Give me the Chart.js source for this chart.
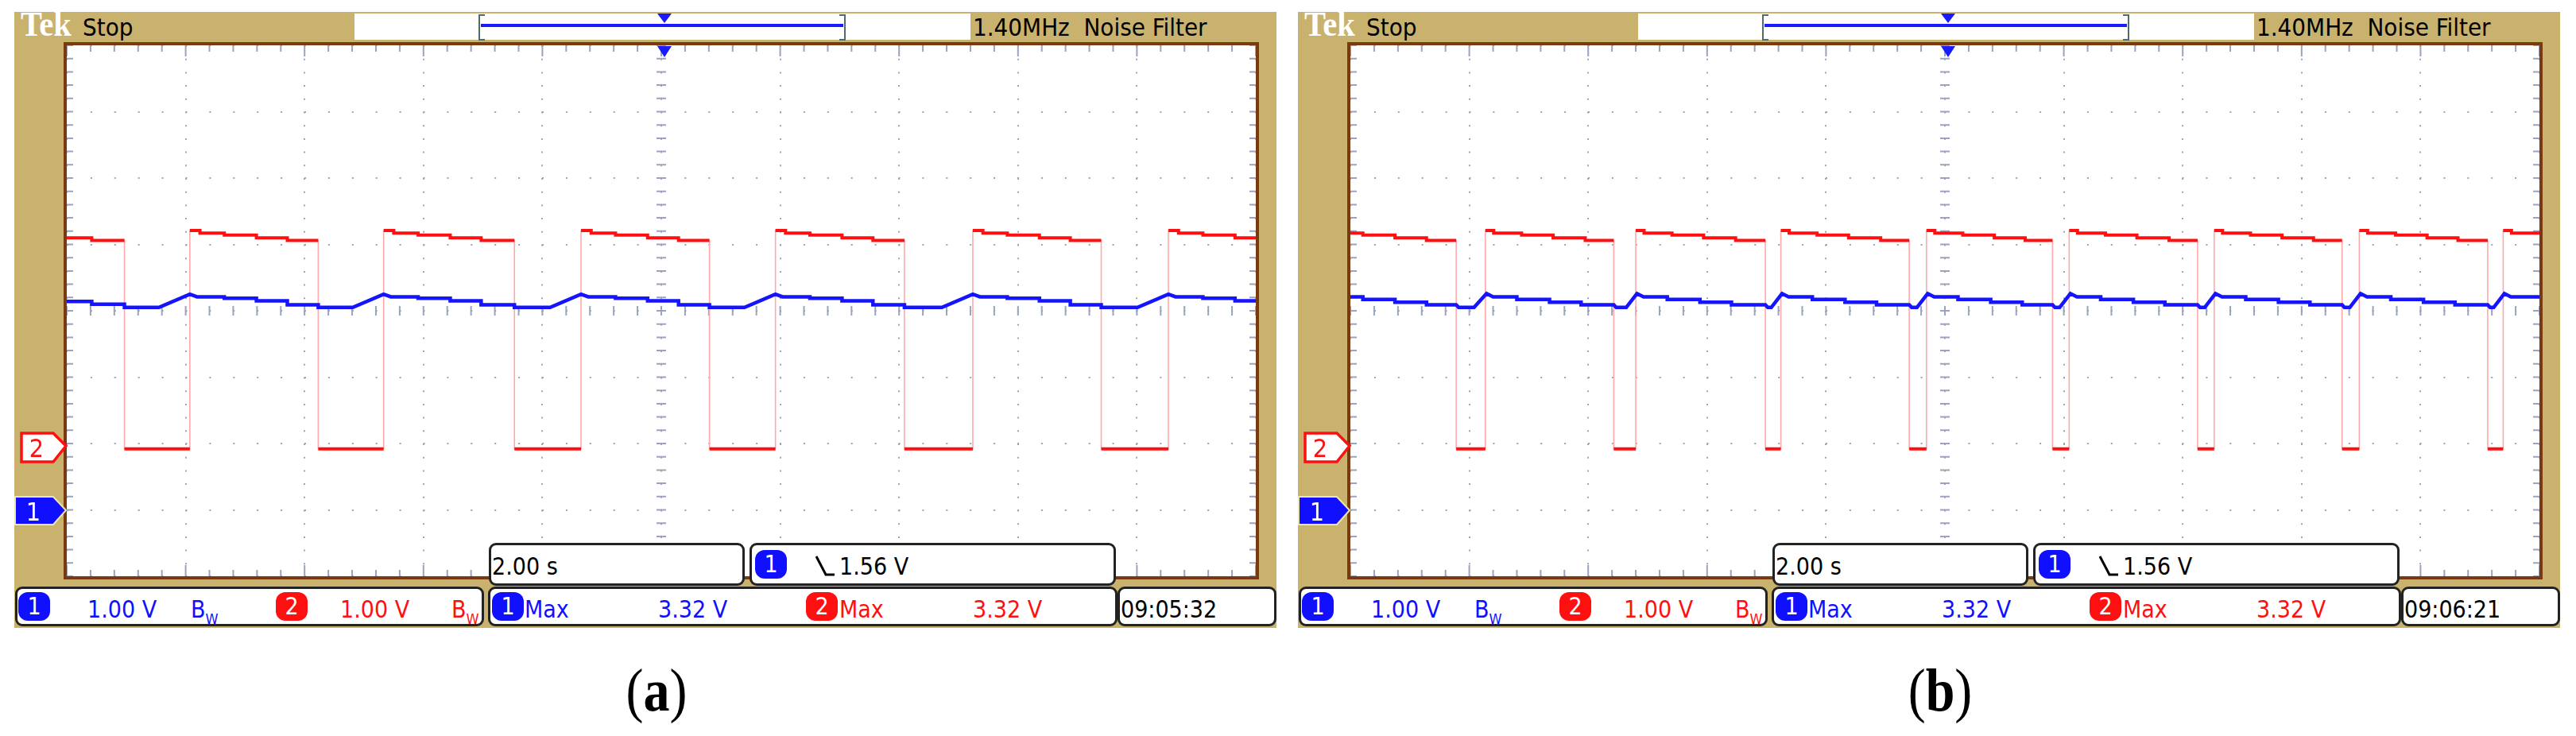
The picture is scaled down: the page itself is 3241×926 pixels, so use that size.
<!DOCTYPE html>
<html>
<head>
<meta charset="utf-8">
<title>Scope captures (a) and (b)</title>
<script src="https://cdn.jsdelivr.net/npm/chart.js@4.4.1/dist/chart.umd.min.js"></script>
<style>
    body { margin: 0; width: 3241px; height: 926px; background: #fff; position: relative; overflow: hidden; }
    .panel { position: absolute; top: 0; width: 1615px; height: 926px; }
    .abs { position: absolute; }
    .frame { left: 18px; top: 15px; width: 1588px; height: 775px; background: #c9b26e; }
    .txt { position: absolute; white-space: nowrap; line-height: 1; font-size: 30px; color: #000;
           font-family: "Liberation Sans Narrow", "DejaVu Sans Condensed", "Arial Narrow", sans-serif; }
    .blue { color: #1010ff; }
    .red { color: #ff1010; }
    .tek { font-family: "Liberation Serif", "DejaVu Serif", serif; font-size: 44px; font-weight: bold; color: #fff;
           transform: scaleX(0.92); transform-origin: left top; }
    .screen { left: 80px; top: 53px; width: 1496px; height: 668px; border: 4px solid #7a3a10; background: #fff; }
    .box { position: absolute; background: #fff; border: 3px solid #222; border-radius: 9px; box-sizing: border-box; }
    .badge { position: absolute; width: 40px; height: 36px; border-radius: 12px; color: #fff; text-align: center;
             font-family: "Liberation Sans Narrow", "DejaVu Sans Condensed", sans-serif; font-size: 30px; line-height: 36px; }
    .badge.b1 { background: #1010ff; }
    .badge.b2 { background: #ff1010; }
    .caption { position: absolute; left: 726px; top: 831px; width: 200px; text-align: center; line-height: 1;
               font-family: "Liberation Serif", "Times New Roman", serif; font-size: 66px; color: #000;
               transform: scaleY(1.15); transform-origin: top center; }
    sub { font-size: 18px; vertical-align: -8px; }
</style>
</head>
<body>
<script>
// horizontal 10 div x 2.00 s, vertical 8 div x 1.00 V
const X_MIN = 0, X_MAX = 20;
const CH1_RANGE = [-1, 7];   // ch1 ground marker 3 div below centre
const CH2_RANGE = [-2, 6];   // ch2 ground marker 2 div below centre
const GRID_COLOR = '#9aa4bc';

// ch2 (red): [time s, volts], each level holds until the next time
const ch2A = [
    [0, 3.10], [0.42, 3.06], [0.97, -0.08],
    [2.07, 3.21], [2.24, 3.17], [2.65, 3.14], [3.19, 3.10], [3.71, 3.06], [4.23, -0.08],
    [5.33, 3.21], [5.50, 3.17], [5.91, 3.14], [6.45, 3.10], [6.97, 3.06], [7.53, -0.08],
    [8.65, 3.21], [8.82, 3.17], [9.23, 3.14], [9.77, 3.10], [10.29, 3.06], [10.81, -0.08],
    [11.92, 3.21], [12.09, 3.17], [12.50, 3.14], [13.04, 3.10], [13.56, 3.06], [14.09, -0.08],
    [15.24, 3.21], [15.41, 3.17], [15.82, 3.14], [16.36, 3.10], [16.88, 3.06], [17.40, -0.08],
    [18.53, 3.21], [18.70, 3.17], [19.11, 3.14], [19.65, 3.10]
];

// ch1 (blue): [time s, volts], straight lines between points
const ch1A = [
    [0, 3.14], [0.42, 3.14], [0.42, 3.10], [0.97, 3.10], [0.97, 3.05], [1.55, 3.05], [2.07, 3.25],
    [2.19, 3.21], [2.65, 3.21], [2.65, 3.19], [3.19, 3.19], [3.19, 3.15], [3.71, 3.15], [3.71, 3.09], [4.23, 3.09], [4.23, 3.05], [4.81, 3.05], [5.33, 3.25],
    [5.45, 3.21], [5.91, 3.21], [5.91, 3.19], [6.45, 3.19], [6.45, 3.15], [6.97, 3.15], [6.97, 3.09], [7.53, 3.09], [7.53, 3.05], [8.13, 3.05], [8.65, 3.25],
    [8.77, 3.21], [9.23, 3.21], [9.23, 3.19], [9.77, 3.19], [9.77, 3.15], [10.29, 3.15], [10.29, 3.09], [10.81, 3.09], [10.81, 3.05], [11.40, 3.05], [11.92, 3.25],
    [12.04, 3.21], [12.50, 3.21], [12.50, 3.19], [13.04, 3.19], [13.04, 3.15], [13.56, 3.15], [13.56, 3.09], [14.09, 3.09], [14.09, 3.05], [14.72, 3.05], [15.24, 3.25],
    [15.36, 3.21], [15.82, 3.21], [15.82, 3.19], [16.36, 3.19], [16.36, 3.15], [16.88, 3.15], [16.88, 3.09], [17.40, 3.09], [17.40, 3.05], [18.01, 3.05], [18.53, 3.25],
    [18.65, 3.21], [19.11, 3.21], [19.11, 3.19], [19.65, 3.19], [19.65, 3.15], [20, 3.15]
];

const ch2B = [
    [0, 3.17], [0.21, 3.14], [0.75, 3.10], [1.28, 3.06], [1.78, -0.08],
    [2.27, 3.21], [2.41, 3.17], [2.88, 3.14], [3.41, 3.10], [3.95, 3.06], [4.43, -0.08],
    [4.80, 3.21], [4.94, 3.17], [5.41, 3.14], [5.94, 3.10], [6.48, 3.06], [6.98, -0.08],
    [7.24, 3.21], [7.38, 3.17], [7.85, 3.14], [8.38, 3.10], [8.92, 3.06], [9.40, -0.08],
    [9.69, 3.21], [9.83, 3.17], [10.30, 3.14], [10.83, 3.10], [11.35, 3.06], [11.81, -0.08],
    [12.09, 3.21], [12.23, 3.17], [12.70, 3.14], [13.23, 3.10], [13.77, 3.06], [14.25, -0.08],
    [14.53, 3.21], [14.67, 3.17], [15.14, 3.14], [15.67, 3.10], [16.20, 3.06], [16.68, -0.08],
    [16.97, 3.21], [17.11, 3.17], [17.58, 3.14], [18.11, 3.10], [18.63, 3.06], [19.13, -0.08],
    [19.39, 3.21], [19.53, 3.17]
];

const ch1B = [
    [0, 3.21], [0.21, 3.21], [0.21, 3.17], [0.75, 3.17], [0.75, 3.13], [1.28, 3.13], [1.28, 3.09], [1.78, 3.09], [1.82, 3.05], [2.08, 3.05], [2.29, 3.26],
    [2.40, 3.21], [2.80, 3.21], [2.80, 3.17], [3.35, 3.17], [3.35, 3.13], [3.88, 3.13], [3.88, 3.09], [4.43, 3.09], [4.47, 3.05], [4.64, 3.05], [4.82, 3.26],
    [4.93, 3.21], [5.33, 3.21], [5.33, 3.17], [5.88, 3.17], [5.88, 3.13], [6.41, 3.13], [6.41, 3.09], [6.98, 3.09], [7.02, 3.05], [7.08, 3.05], [7.26, 3.26],
    [7.37, 3.21], [7.77, 3.21], [7.77, 3.17], [8.32, 3.17], [8.32, 3.13], [8.85, 3.13], [8.85, 3.09], [9.40, 3.09], [9.44, 3.05], [9.53, 3.05], [9.71, 3.26],
    [9.82, 3.21], [10.22, 3.21], [10.22, 3.17], [10.77, 3.17], [10.77, 3.13], [11.30, 3.13], [11.30, 3.09], [11.81, 3.09], [11.85, 3.05], [11.93, 3.05], [12.11, 3.26],
    [12.22, 3.21], [12.62, 3.21], [12.62, 3.17], [13.17, 3.17], [13.17, 3.13], [13.70, 3.13], [13.70, 3.09], [14.25, 3.09], [14.29, 3.05], [14.37, 3.05], [14.55, 3.26],
    [14.66, 3.21], [15.06, 3.21], [15.06, 3.17], [15.61, 3.17], [15.61, 3.13], [16.14, 3.13], [16.14, 3.09], [16.68, 3.09], [16.72, 3.05], [16.81, 3.05], [16.99, 3.26],
    [17.10, 3.21], [17.50, 3.21], [17.50, 3.17], [18.05, 3.17], [18.05, 3.13], [18.58, 3.13], [18.58, 3.09], [19.13, 3.09], [19.17, 3.05], [19.23, 3.05], [19.41, 3.26],
    [19.52, 3.21], [20, 3.21]
];

const panels = [
    { id: 'a', left: 0, clock: '09:05:32', ch1: ch1A, ch2: ch2A },
    { id: 'b', left: 1615, clock: '09:06:21', ch1: ch1B, ch2: ch2B }
];

const slopeIcon = '<svg class="abs" style="left:1024px;top:698px" width="28" height="28">' +
    '<path d="M3,2 L15,25 L26,25" fill="none" stroke="#000" stroke-width="3"/></svg>';

function panelHtml(p) {
    return `
    <div class="abs frame"></div>
    <div class="txt tek" style="left:26px;top:9px">Tek</div>
    <div class="txt" style="left:104px;top:19px;font-size:31px">Stop</div>
    <div class="abs" style="left:446px;top:17px;width:775px;height:33px;background:#fff"></div>
    <div class="abs" style="left:602px;top:18px;width:6px;height:29px;border:2px solid #4f6c6c;border-right:none"></div>
    <div class="abs" style="left:1056px;top:18px;width:6px;height:29px;border:2px solid #4f6c6c;border-left:none"></div>
    <div class="abs" style="left:605px;top:30px;width:456px;height:4px;background:#1a1aff"></div>
    <svg class="abs" style="left:826px;top:17px" width="20" height="13"><path d="M1,0 L19,0 L10,12 Z" fill="#1a1aff"/></svg>
    <div class="txt" style="left:1224px;top:19px;font-size:31px">1.40MHz&nbsp; Noise Filter</div>
    <div class="abs screen"><canvas id="scope-${p.id}" width="1496" height="668"></canvas></div>
    <svg class="abs" style="left:826px;top:58px" width="20" height="15"><path d="M1,0 L19,0 L10,14 Z" fill="#1a1aff"/></svg>
    <svg class="abs" style="left:0;top:530px" width="90" height="140">
        <polygon points="27,15 67,15 83,31 67,51 27,51" fill="#fff" stroke="#ff1010" stroke-width="3.5"/>
        <text x="46" y="45" font-family="Liberation Sans Narrow, DejaVu Sans Condensed, sans-serif" font-size="32" fill="#ff1010" text-anchor="middle">2</text>
        <polygon points="19,95 67,95 83,112 67,130 19,130" fill="#1010ff" stroke="#efe6a6" stroke-width="2"/>
        <text x="42" y="125" font-family="Liberation Sans Narrow, DejaVu Sans Condensed, sans-serif" font-size="32" fill="#fff" text-anchor="middle">1</text>
    </svg>
    <div class="box" style="left:615px;top:683px;width:322px;height:54px"></div>
    <div class="txt" style="left:619px;top:698px">2.00 s</div>
    <div class="box" style="left:943px;top:683px;width:461px;height:54px"></div>
    <div class="badge b1" style="left:950px;top:692px">1</div>
    ${slopeIcon}
    <div class="txt" style="left:1056px;top:698px">1.56 V</div>
    <div class="box" style="left:19px;top:738px;width:590px;height:50px"></div>
    <div class="badge b1" style="left:23px;top:745px">1</div>
    <div class="txt blue" style="left:110px;top:752px">1.00 V</div>
    <div class="txt blue" style="left:240px;top:752px">B<sub>W</sub></div>
    <div class="badge b2" style="left:347px;top:745px">2</div>
    <div class="txt red" style="left:428px;top:752px">1.00 V</div>
    <div class="txt red" style="left:568px;top:752px">B<sub>W</sub></div>
    <div class="box" style="left:614px;top:738px;width:792px;height:50px"></div>
    <div class="badge b1" style="left:619px;top:745px">1</div>
    <div class="txt blue" style="left:660px;top:752px">Max</div>
    <div class="txt blue" style="left:828px;top:752px">3.32 V</div>
    <div class="badge b2" style="left:1014px;top:745px">2</div>
    <div class="txt red" style="left:1056px;top:752px">Max</div>
    <div class="txt red" style="left:1224px;top:752px">3.32 V</div>
    <div class="box" style="left:1406px;top:738px;width:200px;height:50px"></div>
    <div class="txt" style="left:1410px;top:752px">${p.clock}</div>
    <div class="caption">(<b>${p.id}</b>)</div>`;
}

// short graticule marks on the centre cross and the screen edges
const graticuleMarks = {
    id: 'graticuleMarks',
    beforeDatasetsDraw(chart) {
        const { ctx, chartArea: a, scales: { x, y } } = chart;
        const cx = x.getPixelForValue(10), cy = y.getPixelForValue(3);
        ctx.save();
        ctx.strokeStyle = GRID_COLOR;
        ctx.lineWidth = 2;
        ctx.beginPath();
        for (let i = 0; i <= 50; i++) {
            const px = x.getPixelForValue(i * 0.4);
            const len = i % 5 === 0 ? 14 : 8;
            ctx.moveTo(px, cy - 6); ctx.lineTo(px, cy + 6);
            ctx.moveTo(px, a.top); ctx.lineTo(px, a.top + len);
            ctx.moveTo(px, a.bottom); ctx.lineTo(px, a.bottom - len);
        }
        for (let i = 0; i <= 40; i++) {
            const py = y.getPixelForValue(CH1_RANGE[0] + i * 0.2);
            ctx.moveTo(cx - 6, py); ctx.lineTo(cx + 6, py);
            ctx.moveTo(a.left, py); ctx.lineTo(a.left + 8, py);
            ctx.moveTo(a.right, py); ctx.lineTo(a.right - 8, py);
        }
        ctx.stroke();
        ctx.restore();
    }
};

function toXY(points) {
    return points.map(p => ({ x: p[0], y: p[1] }));
}

// thick red only on the levels, the edges are left to the thin pink trace
function levelsOnly(points) {
    const out = [];
    points.forEach((p, i) => {
        if (i > 0 && Math.abs(p[1] - points[i - 1][1]) > 1) {
            out.push({ x: p[0], y: points[i - 1][1] });
            out.push({ x: p[0], y: null });
        }
        out.push({ x: p[0], y: p[1] });
    });
    out.push({ x: X_MAX, y: points[points.length - 1][1] });
    return out;
}

function initializeScope(p) {
    const ctx = document.getElementById('scope-' + p.id).getContext('2d');
    const edges = toXY(p.ch2);
    edges.push({ x: X_MAX, y: p.ch2[p.ch2.length - 1][1] });

    new Chart(ctx, {
        type: 'line',
        data: {
            datasets: [
                { label: 'CH1', data: toXY(p.ch1), yAxisID: 'y', borderColor: '#1414ff', borderWidth: 4.5, order: 0 },
                { label: 'CH2', data: levelsOnly(p.ch2), yAxisID: 'y2', stepped: true, borderColor: '#ff1010', borderWidth: 4, order: 1 },
                { label: 'CH2 edges', data: edges, yAxisID: 'y2', stepped: true, borderColor: '#ffaaaa', borderWidth: 1.6, order: 2 }
            ]
        },
        options: {
            responsive: false,
            animation: false,
            layout: { padding: 0 },
            elements: { point: { radius: 0 }, line: { tension: 0, borderCapStyle: 'butt' } },
            plugins: { legend: { display: false }, tooltip: { enabled: false } },
            scales: {
                x: {
                    type: 'linear', min: X_MIN, max: X_MAX,
                    ticks: { display: false, stepSize: 2 },
                    grid: { color: GRID_COLOR, lineWidth: 2, drawTicks: false },
                    border: { display: false, dash: [2, 14.7] }
                },
                y: {
                    min: CH1_RANGE[0], max: CH1_RANGE[1],
                    ticks: { display: false, stepSize: 1 },
                    grid: { color: GRID_COLOR, lineWidth: 2, drawTicks: false },
                    border: { display: false, dash: [2, 27.9] }
                },
                y2: { display: false, min: CH2_RANGE[0], max: CH2_RANGE[1] }
            }
        },
        plugins: [graticuleMarks]
    });
}

panels.forEach(p => {
    const div = document.createElement('div');
    div.className = 'panel';
    div.style.left = p.left + 'px';
    div.innerHTML = panelHtml(p);
    document.body.appendChild(div);
    initializeScope(p);
});
</script>
</body>
</html>
